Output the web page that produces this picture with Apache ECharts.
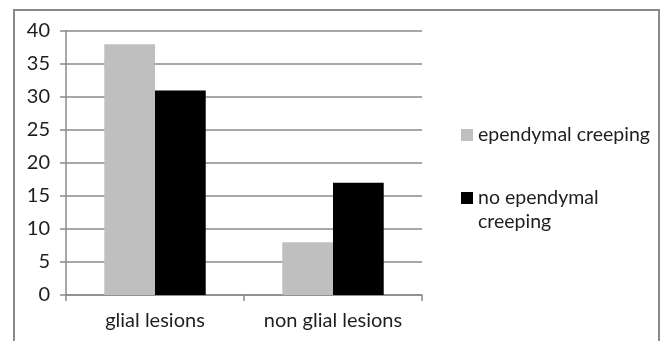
<!DOCTYPE html>
<html>
<head>
<meta charset="utf-8">
<style>
  html, body { margin: 0; padding: 0; background: #fff; }
  #chart { width: 662px; height: 341px; }
</style>
<script src="https://cdn.jsdelivr.net/npm/echarts@6/dist/echarts.min.js"></script>
</head>
<body>
<div id="chart"></div>
<script>
// Lesion types on the category axis
const categories = ['glial lesions', 'non glial lesions'];
// Case counts per group
const ependymalCreeping = [38, 8];
const noEpendymalCreeping = [31, 17];
// Value axis scale
const yMin = 0;
const yMax = 40;
const yStep = 5;

const FONT = 'Lato';
const TEXT = '#1e1e1e';
const LINE = '#8a8a8a';

const chart = echarts.init(document.getElementById('chart'), null, { renderer: 'canvas' });

chart.setOption({
  animation: false,
  backgroundColor: '#fff',
  textStyle: { fontFamily: FONT },
  graphic: [{
    type: 'rect',
    shape: { x: 14, y: 10, width: 645, height: 360 },
    style: { fill: 'none', stroke: '#8a8a8a', lineWidth: 2 },
    silent: true,
    z: -1
  }],
  grid: { left: 66, right: 240, top: 31, bottom: 46, containLabel: false },
  legend: [{
    orient: 'vertical',
    left: 456,
    top: 118,
    itemWidth: 12,
    itemHeight: 12,
    icon: 'rect',
    itemGap: 0,
    textStyle: { fontFamily: FONT, fontSize: 19.5, color: TEXT, lineHeight: 24 },
    data: ['ependymal creeping']
  }, {
    orient: 'vertical',
    left: 456,
    top: 157,
    itemWidth: 12,
    itemHeight: 12,
    icon: 'rect',
    itemGap: 0,
    // blank first line keeps the marker level with "no ependymal"
    formatter: name => ' \n' + name.replace(' creeping', '\ncreeping'),
    textStyle: { fontFamily: FONT, fontSize: 19.5, color: TEXT, lineHeight: 24 },
    data: ['no ependymal creeping']
  }],
  xAxis: {
    type: 'category',
    data: categories,
    axisLine: { show: true, lineStyle: { color: LINE, width: 1.5 } },
    axisTick: { show: true, length: 6, alignWithLabel: false, lineStyle: { color: LINE, width: 1.5 } },
    axisLabel: { interval: 0, hideOverlap: false, fontFamily: FONT, fontSize: 20, color: TEXT, margin: 16 },
    splitLine: { show: false }
  },
  yAxis: {
    type: 'value',
    min: yMin,
    max: yMax,
    interval: yStep,
    axisLine: { show: true, lineStyle: { color: LINE, width: 1.5 } },
    axisTick: { show: true, length: 6, lineStyle: { color: LINE, width: 1.5 } },
    axisLabel: { fontFamily: FONT, fontSize: 20, color: TEXT, margin: 16 },
    splitLine: { show: true, lineStyle: { color: LINE, width: 1.5 } }
  },
  series: [{
    name: 'ependymal creeping',
    type: 'bar',
    data: ependymalCreeping,
    barGap: '0%',
    barCategoryGap: '43%',
    itemStyle: { color: '#bfbfbf' }
  }, {
    name: 'no ependymal creeping',
    type: 'bar',
    data: noEpendymalCreeping,
    barGap: '0%',
    barCategoryGap: '43%',
    itemStyle: { color: '#000000' }
  }]
});
</script>
</body>
</html>
